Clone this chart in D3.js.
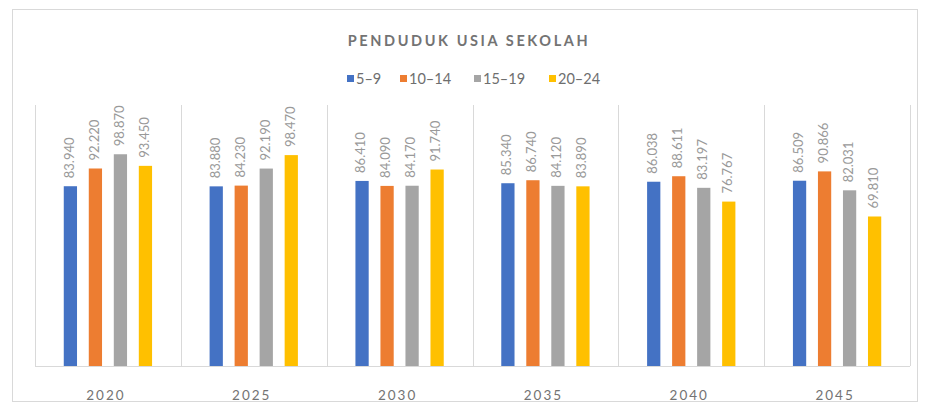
<!DOCTYPE html>
<html>
<head>
<meta charset="utf-8">
<script src="https://cdn.jsdelivr.net/npm/d3@7"></script>
<style>
  html, body { margin: 0; padding: 0; background: #fff; }
  svg { display: block; }
</style>
</head>
<body>
<svg id="chart" width="928" height="407"></svg>
<script>
// School-age population by age group, per projection year
const years = ["2020", "2025", "2030", "2035", "2040", "2045"];
const ageGroups = ["5–9", "10–14", "15–19", "20–24"];
const age5to9   = [83.940, 83.880, 86.410, 85.340, 86.038, 86.509];
const age10to14 = [92.220, 84.230, 84.090, 86.740, 88.611, 90.866];
const age15to19 = [98.870, 92.190, 84.170, 84.120, 83.197, 82.031];
const age20to24 = [93.450, 98.470, 91.740, 83.890, 76.767, 69.810];
const colors = ["#4472C4", "#ED7D31", "#A5A5A5", "#FFC000"];

const seriesValues = [age5to9, age10to14, age15to19, age20to24];
const rows = years.map((y, i) => ({
  year: y,
  values: ageGroups.map((g, j) => ({ group: g, value: seriesValues[j][i] }))
}));

const svg = d3.select("#chart");
const font = "Lato, 'Open Sans', sans-serif";

// outer frame
svg.append("rect")
  .attr("x", 12.5).attr("y", 9.5)
  .attr("width", 905).attr("height", 392)
  .attr("fill", "#fff").attr("stroke", "#d9d9d9");

const plot = { left: 35, right: 910, top: 105, bottom: 366 };

const x0 = d3.scaleBand().domain(years).range([plot.left, plot.right]).padding(0);
const x1 = d3.scaleBand().domain(ageGroups).range([0, x0.bandwidth()])
  .paddingInner(0.47).paddingOuter(1.15);
const y = d3.scaleLinear().domain([0, 120]).range([plot.bottom, 109]);

// category dividers
const bounds = years.map(d => x0(d)).concat([plot.right]);
svg.append("g").selectAll("line").data(bounds).join("line")
  .attr("x1", d => Math.round(d) + 0.5).attr("x2", d => Math.round(d) + 0.5)
  .attr("y1", plot.top).attr("y2", plot.bottom)
  .attr("stroke", "#d9d9d9");

// baseline
svg.append("line")
  .attr("x1", plot.left).attr("x2", plot.right)
  .attr("y1", plot.bottom + 0.5).attr("y2", plot.bottom + 0.5)
  .attr("stroke", "#d9d9d9");

const groups = svg.append("g").selectAll("g").data(rows).join("g")
  .attr("transform", d => `translate(${x0(d.year)},0)`);

groups.selectAll("rect").data(d => d.values).join("rect")
  .attr("x", d => x1(d.group))
  .attr("width", x1.bandwidth())
  .attr("y", d => y(d.value))
  .attr("height", d => y(0) - y(d.value))
  .attr("fill", (d, i) => colors[i]);

const fmt = d3.format(".3f");
groups.selectAll("text").data(d => d.values).join("text")
  .attr("transform", d => `translate(${x1(d.group) + x1.bandwidth() / 2},${y(d.value) - 8}) rotate(-90)`)
  .attr("text-anchor", "start")
  .attr("dominant-baseline", "middle")
  .attr("font-family", font)
  .attr("font-size", 13)
  .attr("fill", "#999999")
  .text(d => fmt(d.value));

// year axis labels
const xAxis = d3.axisBottom(x0).tickSize(0).tickPadding(0);
const ax = svg.append("g").attr("transform", `translate(-2,${plot.bottom})`).call(xAxis);
ax.select(".domain").remove();
ax.selectAll("text")
  .attr("y", 24)
  .attr("font-family", font)
  .attr("font-size", 13.5)
  .attr("letter-spacing", 2)
  .attr("fill", "#737373");

// title
svg.append("text")
  .attr("x", 469).attr("y", 46)
  .attr("text-anchor", "middle")
  .attr("font-family", font)
  .attr("font-weight", "bold")
  .attr("font-size", 14.5)
  .attr("letter-spacing", 2.6)
  .attr("fill", "#737373")
  .text("PENDUDUK USIA SEKOLAH");

// legend
const legendX = [347, 400, 474, 549];
const legend = svg.append("g").selectAll("g").data(ageGroups).join("g")
  .attr("transform", (d, i) => `translate(${legendX[i]},75)`);
legend.append("rect").attr("width", 7).attr("height", 7).attr("y", 0)
  .attr("fill", (d, i) => colors[i]);
legend.append("text")
  .attr("x", 9).attr("y", 9)
  .attr("font-family", font)
  .attr("font-size", 14.5)
  .attr("fill", "#6e6e6e")
  .text(d => d);
</script>
</body>
</html>
